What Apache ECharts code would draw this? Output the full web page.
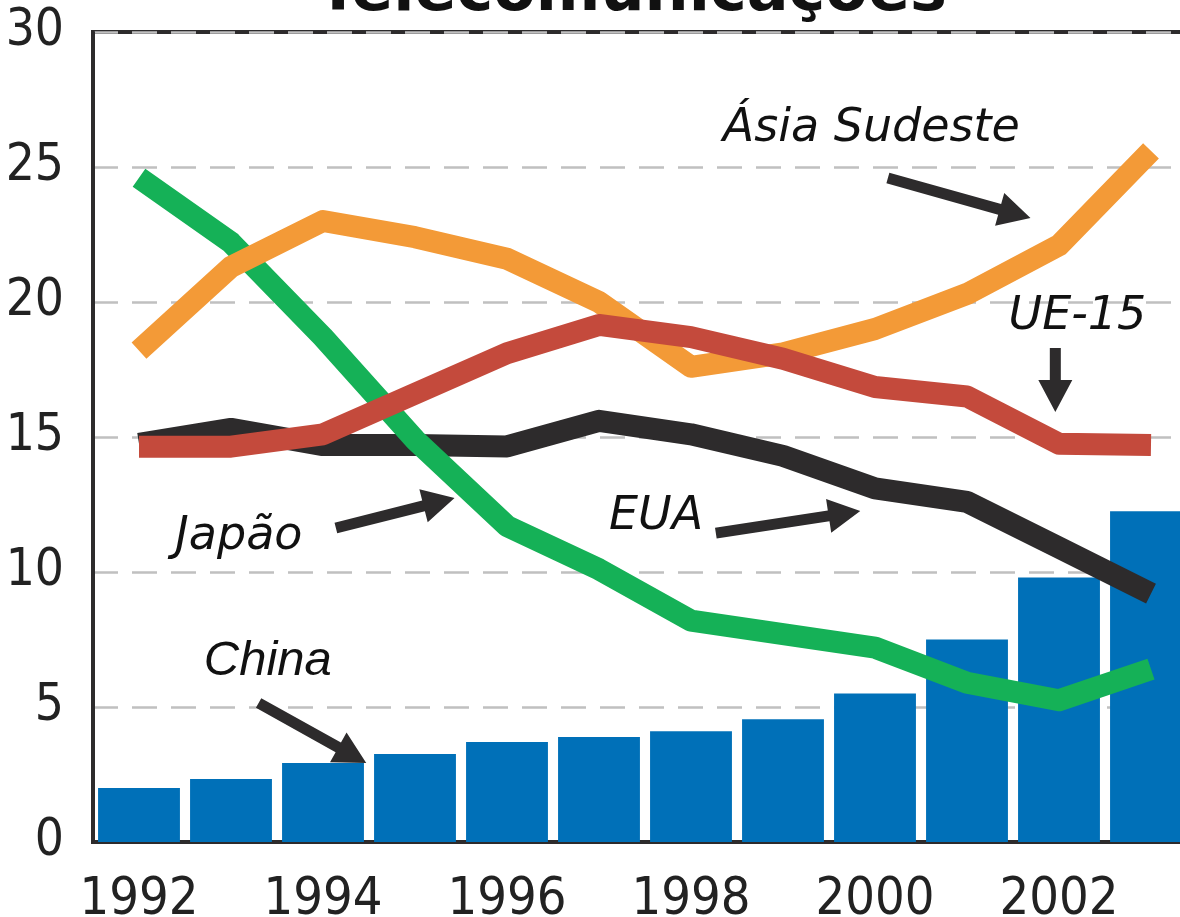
<!DOCTYPE html>
<html><head><meta charset="utf-8">
<script src="https://cdn.jsdelivr.net/npm/echarts@6/dist/echarts.min.js"></script>
<style>html,body{margin:0;padding:0;background:#fff;overflow:hidden;width:1180px;height:917px}#c{width:1200px;height:917px}</style>
</head><body><div id="c"></div>
<script>
const years = ['1992','1993','1994','1995','1996','1997','1998','1999','2000','2001','2002','2003'];
const china = [2.0, 2.33, 2.93, 3.26, 3.7, 3.89, 4.1, 4.55, 5.5, 7.5, 9.8, 12.25];
const asiaSudeste = [18.2, 21.3, 23.0, 22.4, 21.6, 20.0, 17.6, 18.1, 19.0, 20.3, 22.1, 25.6];
const ue15 = [14.64, 14.64, 15.1, 16.6, 18.1, 19.15, 18.7, 17.9, 16.85, 16.5, 14.75, 14.7];
const eua = [14.75, 15.3, 14.7, 14.7, 14.65, 15.6, 15.1, 14.3, 13.1, 12.6, 10.9, 9.2];
const japao = [24.6, 22.2, 18.7, 14.9, 11.7, 10.1, 8.2, 7.7, 7.2, 5.9, 5.25, 6.4];
const yMin = 0, yMax = 30, yStep = 5;
const titleText = 'Telecomunicações';

// annotation labels: [text, category index (fractional), value at baseline]
const labelTexts = ['Ásia Sudeste', 'UE-15', 'EUA', 'Japão', 'China'];
const labelX = [7.96, 10.2, 5.62, 1.085, 1.40];
const labelY = [25.8, 18.85, 11.44, 10.7, 6.07];
// arrows: tail [x,y] -> tip [x,y] in data units
const arrowTail = [[8.14, 24.59], [9.96, 18.30], [6.27, 11.44], [2.14, 11.63], [1.30, 5.15]];
const arrowTip  = [[9.69, 23.11], [9.96, 15.93], [7.84, 12.26], [3.43, 12.74], [2.47, 2.93]];

const chart = echarts.init(document.getElementById('c'));
const tickFont = "'Liberation Sans Narrow', 'DejaVu Sans Condensed', 'Liberation Sans', sans-serif";
const lineSeries = (name, data, color) => ({
  name, type: 'line', data, showSymbol: false, symbol: 'none',
  lineStyle: { color, width: 22, cap: 'butt', join: 'round' },
  itemStyle: { color }, animation: false
});
chart.setOption({
  animation: false,
  grid: { left: 93, right: 3, top: 32, bottom: 75, outerBoundsMode: 'none', containLabel: false,
    show: true, borderColor: '#2d2b2c', borderWidth: 4, backgroundColor: 'transparent' },
  xAxis: {
    type: 'category', data: years, boundaryGap: true,
    axisLine: { show: true, lineStyle: { color: '#2d2b2c', width: 4 } },
    axisTick: { show: false },
    axisLabel: { interval: 1, fontSize: 52, fontFamily: tickFont, color: '#222', margin: 32 }
  },
  yAxis: {
    type: 'value', min: yMin, max: yMax, interval: yStep,
    axisLine: { show: true, lineStyle: { color: '#2d2b2c', width: 3 } },
    axisTick: { show: false },
    axisLabel: { fontSize: 51, fontFamily: tickFont, color: '#222', margin: 29 },
    splitLine: { show: true, lineStyle: { color: '#c0c0c0', width: 2.5, type: [25, 14] } }
  },
  series: [
    { name: 'China', type: 'bar', data: china, barCategoryGap: '11%', itemStyle: { color: '#0070b8' } },
    lineSeries('EUA', eua, '#2d2b2c'),
    lineSeries('Japão', japao, '#15b157'),
    lineSeries('Ásia Sudeste', asiaSudeste, '#f39a37'),
    lineSeries('UE-15', ue15, '#c44a3c')
  ]
});

function toPx(x, y) {
  const i0 = Math.floor(x), i1 = i0 + 1;
  const p0 = chart.convertToPixel({ gridIndex: 0 }, [i0, y]);
  const p1 = chart.convertToPixel({ gridIndex: 0 }, [i1, y]);
  const t = x - i0;
  return [p0[0] + (p1[0] - p0[0]) * t, p0[1]];
}
const graphics = [];
const fs = 46;
labelTexts.forEach((txt, k) => {
  const p = toPx(labelX[k], labelY[k]);
  const isChina = txt === 'China';
  graphics.push({
    type: 'text', x: p[0], y: p[1] - 0.35 * (isChina ? 48 : fs), z: 100,
    style: {
      text: txt, fill: '#111', align: 'center', verticalAlign: 'middle',
      font: 'italic ' + (isChina ? "49px 'Liberation Sans', sans-serif" : fs + "px 'DejaVu Sans', sans-serif")
    }
  });
});
arrowTail.forEach((tl, k) => {
  const T = toPx(tl[0], tl[1]);
  const P = toPx(arrowTip[k][0], arrowTip[k][1]);
  const dx = P[0] - T[0], dy = P[1] - T[1];
  const L = Math.hypot(dx, dy);
  const ux = dx / L, uy = dy / L, nx = -uy, ny = ux;
  const headLen = 32, headW = 34, shaftW = 11;
  const Bx = P[0] - ux * headLen, By = P[1] - uy * headLen;
  const pts = [
    [T[0] + nx * shaftW / 2, T[1] + ny * shaftW / 2],
    [Bx + nx * shaftW / 2, By + ny * shaftW / 2],
    [Bx + nx * headW / 2, By + ny * headW / 2],
    [P[0], P[1]],
    [Bx - nx * headW / 2, By - ny * headW / 2],
    [Bx - nx * shaftW / 2, By - ny * shaftW / 2],
    [T[0] - nx * shaftW / 2, T[1] - ny * shaftW / 2]
  ];
  graphics.push({ type: 'polygon', z: 100, shape: { points: pts }, style: { fill: '#2d2b2c' } });
});
graphics.push({
  type: 'text', x: 632, y: 16 - 0.35 * 62, z: 100,
  style: { text: titleText, fill: '#111', align: 'center', verticalAlign: 'middle', font: "bold 62px 'DejaVu Sans', sans-serif" }
});
chart.setOption({ graphic: graphics });
</script></body></html>
